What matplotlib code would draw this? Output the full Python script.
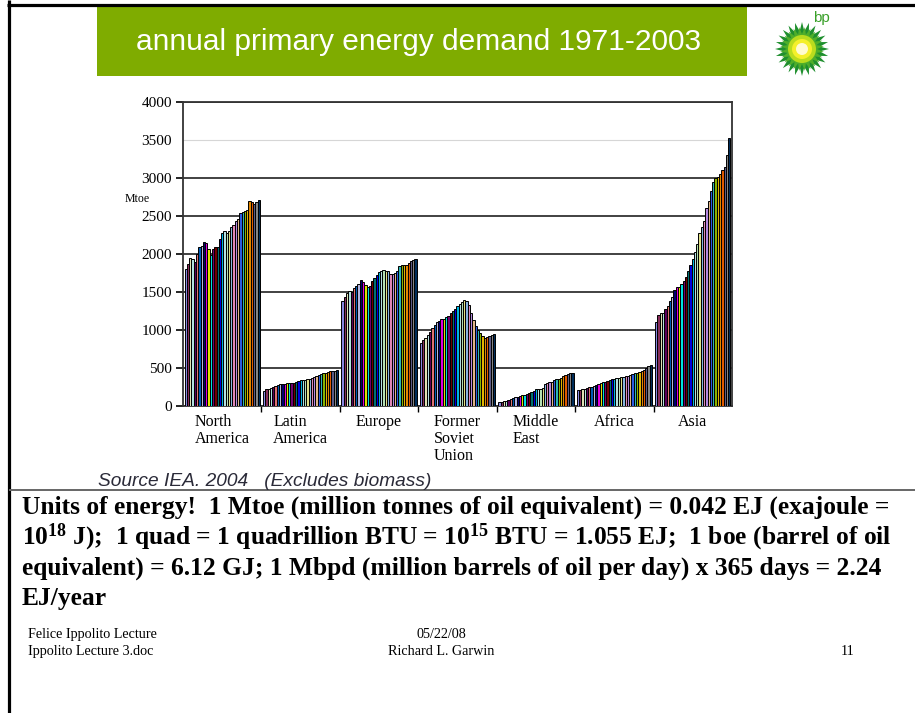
import numpy as np
import matplotlib.pyplot as plt
from matplotlib.colors import to_rgb
from matplotlib.patches import Rectangle, Polygon, Circle

plt.rcParams['mathtext.default'] = 'regular'

W, H = 915, 713

# annual primary energy demand, Mtoe, one value per year 1971-2003
years = list(range(1971, 2004))
regions = ['North\nAmerica', 'Latin\nAmerica', 'Europe', 'Former\nSoviet\nUnion',
           'Middle\nEast', 'Africa', 'Asia']

north_america = [1800, 1870, 1950, 1930, 1890, 2000, 2090, 2100, 2160, 2140, 2060,
                 1990, 2060, 2090, 2090, 2200, 2270, 2300, 2280, 2300, 2350, 2380,
                 2430, 2460, 2540, 2550, 2560, 2580, 2700, 2690, 2660, 2690, 2710]
latin_america = [200, 220, 230, 240, 250, 260, 275, 285, 290, 295, 300, 300, 300,
                 305, 315, 330, 340, 345, 345, 350, 355, 365, 380, 395, 410, 420,
                 430, 440, 450, 455, 460, 465, 470]
europe = [1380, 1430, 1490, 1510, 1500, 1550, 1580, 1610, 1660, 1630, 1590, 1570,
          1580, 1640, 1680, 1720, 1760, 1780, 1790, 1780, 1770, 1740, 1740, 1750,
          1780, 1840, 1850, 1860, 1860, 1880, 1910, 1920, 1940]
former_soviet_union = [830, 870, 900, 940, 980, 1030, 1070, 1100, 1120, 1140, 1150,
                       1170, 1190, 1220, 1250, 1280, 1310, 1340, 1370, 1390, 1380,
                       1330, 1230, 1130, 1050, 1000, 960, 920, 900, 910, 920, 940, 950]
middle_east = [50, 55, 65, 70, 80, 90, 100, 115, 125, 135, 140, 150, 160, 170, 180,
               200, 225, 230, 230, 235, 290, 300, 310, 320, 340, 350, 360, 370, 390,
               410, 420, 430, 440]
africa = [205, 215, 220, 225, 235, 245, 255, 265, 280, 290, 300, 310, 320, 330, 340,
          350, 360, 365, 370, 380, 385, 390, 400, 410, 420, 430, 440, 450, 460, 480,
          500, 520, 545]
asia = [1100, 1200, 1220, 1230, 1280, 1320, 1380, 1430, 1530, 1560, 1570, 1600, 1640,
        1700, 1780, 1860, 1940, 2020, 2130, 2270, 2350, 2440, 2600, 2700, 2830, 2950,
        3000, 3010, 3050, 3100, 3150, 3300, 3520]

yticks = [0, 500, 1000, 1500, 2000, 2500, 3000, 3500, 4000]

# old Excel default series colours
year_colors = ['#9999FF', '#993366', '#FFFFCC', '#CCFFFF', '#660066', '#FF8080',
               '#0066CC', '#CCCCFF', '#000080', '#FF00FF', '#FFFF00', '#00FFFF',
               '#800080', '#800000', '#008080', '#0000FF', '#00CCFF', '#CCFFFF',
               '#CCFFCC', '#FFFF99', '#99CCFF', '#FF99CC', '#CC99FF', '#FFCC99',
               '#3366FF', '#33CCCC', '#99CC00', '#FFCC00', '#FF9900', '#FF6600',
               '#666699', '#969696', '#003366']

demand = [north_america, latin_america, europe, former_soviet_union,
          middle_east, africa, asia]

fig = plt.figure(figsize=(W / 100, H / 100), dpi=100)

# page overlay in pixel coordinates (y down)
page = fig.add_axes([0, 0, 1, 1])
page.set_xlim(0, W)
page.set_ylim(H, 0)
page.axis('off')

page.plot([8.5, 8.5], [0, H], color='black', lw=2.3, solid_capstyle='butt')
page.plot([7, W], [4.5, 4.5], color='black', lw=2.3, solid_capstyle='butt')
page.plot([10, W], [490, 490], color='#666666', lw=1.4)

page.add_patch(Rectangle((97, 7), 650, 69, color='#7fac00', lw=0))
page.text(419, 42, 'annual primary energy demand 1971-2003', color='white',
          family='Liberation Sans', fontsize=21.5, ha='center', va='center')

# bp helios
cx, cy = 802, 49
for r_out, r_in, col, rot in [(27, 18, '#1f8f2e', 0), (22, 15, '#4fae2a', 7.5)]:
    ang = np.deg2rad(np.arange(48) * 7.5 + rot)
    rad = np.where(np.arange(48) % 2 == 0, r_out, r_in)
    page.add_patch(Polygon(np.c_[cx + rad * np.sin(ang), cy - rad * np.cos(ang)],
                           color=col, lw=0))
page.add_patch(Circle((cx, cy), 14, color='#b9dc1e', lw=0))
page.add_patch(Circle((cx, cy), 10, color='#f4f02a', lw=0))
page.add_patch(Circle((cx, cy), 6, color='#fffbd0', lw=0))
page.text(821, 18, 'bp', color='#3aa02a', family='Liberation Sans', fontsize=11,
          ha='center', va='center')

page.text(125, 199, 'Mtoe', family='Liberation Serif', fontsize=8.5, va='center')
page.text(98, 481, 'Source IEA. 2004   (Excludes biomass)', family='Liberation Sans',
          style='italic', fontsize=13.8, color='#2a2a38', va='center')

body = ['Units of energy!  1 Mtoe (million tonnes of oil equivalent) = 0.042 EJ (exajoule =',
        '10$^{18}$ J);  1 quad = 1 quadrillion BTU = 10$^{15}$ BTU = 1.055 EJ;  1 boe (barrel of oil',
        'equivalent) = 6.12 GJ; 1 Mbpd (million barrels of oil per day) x 365 days = 2.24',
        'EJ/year']
for i, line in enumerate(body):
    page.text(22, 514 + i * 30.5, line, family='Liberation Serif', weight='bold',
              fontsize=18.4, va='baseline')

foot = dict(family='Liberation Serif', fontsize=10.2, va='baseline')
page.text(28, 638, 'Felice Ippolito Lecture', **foot)
page.text(28, 655, 'Ippolito Lecture 3.doc', **foot)
page.text(441, 638, '05/22/08', ha='center', **foot)
page.text(441, 655, 'Richard L. Garwin', ha='center', **foot)
page.text(848, 655, '11', ha='center', **foot)

# the chart itself
ax = fig.add_axes([183 / W, 1 - 406 / H, (732 - 183) / W, (406 - 102) / H])
n = len(years)
group = 0.96
bw = group / n
pos = np.arange(len(regions))
for j, yr in enumerate(years):
    # the scanned slide shows the colours a little dimmer
    face = tuple(0.88 * c for c in to_rgb(year_colors[j]))
    ax.bar(pos - group / 2 + (j + 0.5) * bw, [r[j] for r in demand], width=bw,
           color=face, edgecolor='black', linewidth=0.7, zorder=3)

ax.set_xlim(-0.5, len(regions) - 0.5)
ax.set_ylim(0, 4000)
ax.set_yticks(yticks)
ax.set_yticklabels([str(t) for t in yticks], family='Liberation Serif', fontsize=11)
ax.set_xticks(pos)
ax.set_xticklabels(regions, family='Liberation Serif', fontsize=11.5, va='top',
                   linespacing=1.05)
for lbl in ax.get_xticklabels():
    lbl.set_multialignment('left')
ax.set_xticks(pos[:-1] + 0.5, minor=True)
ax.tick_params(axis='x', which='major', length=0, pad=6)
ax.tick_params(axis='x', which='minor', length=4, direction='out', width=1)
ax.tick_params(axis='y', length=5, width=1.2, pad=3)
ax.grid(axis='y', color='#333333', lw=1.3, zorder=1)
ax.get_ygridlines()[7].set_color('#d6d6d6')
ax.get_ygridlines()[7].set_linewidth(0.8)
ax.yaxis.get_major_ticks()[7].tick1line.set_visible(False)
for s in ax.spines.values():
    s.set_color('#333333')
    s.set_linewidth(1.3)

fig.savefig('out.png', dpi=100)
